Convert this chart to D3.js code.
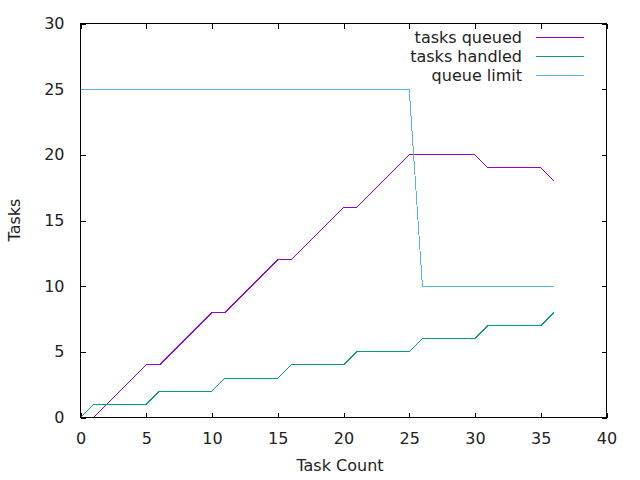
<!DOCTYPE html>
<html>
<head>
<meta charset="utf-8">
<script src="https://cdn.jsdelivr.net/npm/d3@7"></script>
<style>
  html, body { margin: 0; padding: 0; background: #fff; }
  svg { display: block; font-family: "DejaVu Sans", sans-serif; }
</style>
</head>
<body>
<svg id="chart" width="640" height="480"></svg>
<script>
const taskCount   = [0,1,2,3,4,5,6,7,8,9,10,11,12,13,14,15,16,17,18,19,20,21,22,23,24,25,26,27,28,29,30,31,32,33,34,35,36];
const tasksQueued = [null,0,1,2,3,4,4,5,6,7,8,8,9,10,11,12,12,13,14,15,16,16,17,18,19,20,20,20,20,20,20,19,19,19,19,19,18];
const tasksHandled= [0,1,1,1,1,1,2,2,2,2,2,3,3,3,3,3,4,4,4,4,4,5,5,5,5,5,6,6,6,6,6,7,7,7,7,7,8];
const queueLimit  = [25,25,25,25,25,25,25,25,25,25,25,25,25,25,25,25,25,25,25,25,25,25,25,25,25,25,10,10,10,10,10,10,10,10,10,10,10];
const seriesNames = ["tasks queued", "tasks handled", "queue limit"];
const seriesColors = ["#9400d3", "#009e73", "#56b4e9"];
const xTicks = [0,5,10,15,20,25,30,35,40];
const yTicks = [0,5,10,15,20,25,30];

const svg = d3.select("#chart");
const L = 80.5, R = 606.5, T = 23.5, B = 417.5;
const x = d3.scaleLinear().domain([0, 40]).range([L, R]);
const y = d3.scaleLinear().domain([0, 30]).range([B, T]);

const fs = "16px";
// axes
const gx = svg.append("g").attr("transform", `translate(0,${B})`)
  .call(d3.axisBottom(x).tickValues(xTicks).tickSizeInner(-5).tickSizeOuter(0).tickPadding(15));
const gy = svg.append("g").attr("transform", `translate(${L},0)`)
  .call(d3.axisLeft(y).tickValues(yTicks).tickSizeInner(-5).tickSizeOuter(0).tickPadding(16));
const gt = svg.append("g").attr("transform", `translate(0,${T})`)
  .call(d3.axisTop(x).tickValues(xTicks).tickSizeInner(-5).tickSizeOuter(0).tickFormat(""));
const gr = svg.append("g").attr("transform", `translate(${R},0)`)
  .call(d3.axisRight(y).tickValues(yTicks).tickSizeInner(-5).tickSizeOuter(0).tickFormat(""));
[gx, gy, gt, gr].forEach(g => {
  g.select(".domain").remove();
  g.selectAll(".tick line").attr("stroke", "#000").attr("shape-rendering", "crispEdges");
  g.selectAll(".tick text").attr("fill", "#222").style("font-size", fs).style("font-family", "DejaVu Sans");
});

svg.append("rect").attr("x", L).attr("y", T).attr("width", R - L).attr("height", B - T)
  .attr("fill", "none").attr("stroke", "#000").attr("shape-rendering", "crispEdges");

// lines
const allSeries = [tasksQueued, tasksHandled, queueLimit];
allSeries.forEach((vals, i) => {
  const pts = taskCount.map((c, j) => [c, vals[j]]);
  const line = d3.line().defined(d => d[1] !== null).x(d => x(d[0])).y(d => y(d[1]));
  svg.append("path").datum(pts).attr("d", line)
    .attr("fill", "none").attr("stroke", seriesColors[i]).attr("stroke-width", 1)
    .attr("shape-rendering", "crispEdges");
});

// legend
const legY = [37.5, 56.5, 75.5];
seriesNames.forEach((n, i) => {
  svg.append("text").attr("x", 522).attr("y", legY[i]).attr("text-anchor", "end")
    .attr("dominant-baseline", "central").style("font-size", fs).attr("fill", "#222").text(n);
  svg.append("line").attr("x1", 536).attr("x2", 584).attr("y1", legY[i]).attr("y2", legY[i])
    .attr("stroke", seriesColors[i]).attr("stroke-width", 1).attr("shape-rendering", "crispEdges");
});

// axis labels
svg.append("text").attr("x", 340).attr("y", 471).attr("text-anchor", "middle")
  .style("font-size", fs).attr("fill", "#222").text("Task Count");
svg.append("text").attr("transform", "translate(14,220) rotate(-90)").attr("text-anchor", "middle")
  .attr("dominant-baseline", "central").style("font-size", fs).attr("fill", "#222").text("Tasks");
</script>
</body>
</html>
